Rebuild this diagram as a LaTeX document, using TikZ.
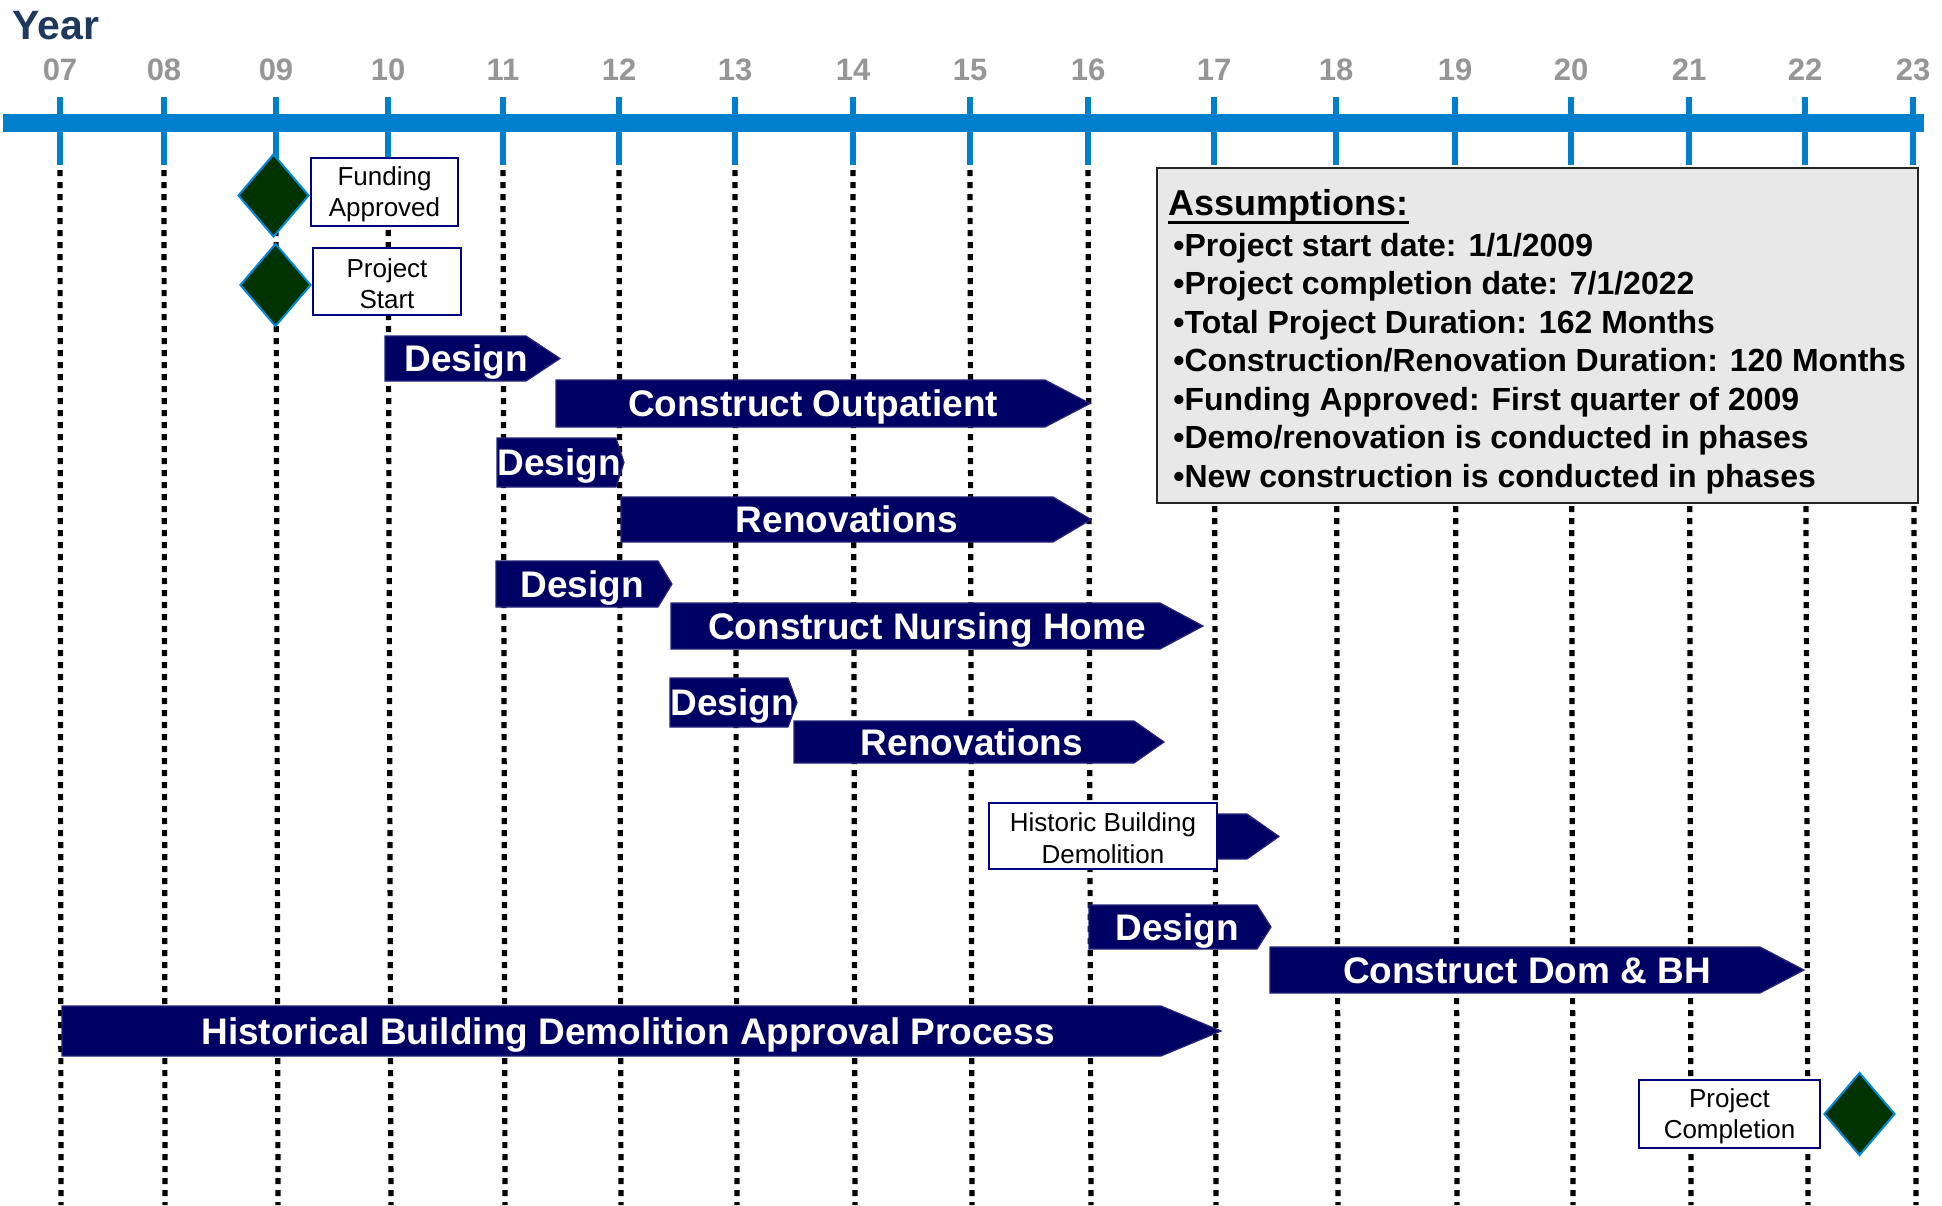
\documentclass[tikz,border=0pt]{standalone}
\usepackage{fontspec}
\setmainfont{Liberation Sans}
\usetikzlibrary{shapes.geometric}
\definecolor{navybar}{RGB}{0,0,100}
\definecolor{boxnavy}{RGB}{0,0,128}
\definecolor{tlblue}{RGB}{0,128,204}
\definecolor{yeargray}{RGB}{150,150,150}
\definecolor{yearblue}{RGB}{31,56,93}
\definecolor{dgreen}{RGB}{0,51,0}
\definecolor{diaborder}{RGB}{0,136,221}
\definecolor{assumgray}{RGB}{232,232,232}
\tikzset{
  barfill/.style={fill=navybar, draw=navybar!85!white, line width=0.6pt},
  bartext/.style={anchor=base, inner sep=0pt, text=white, font=\fontsize{18.5pt}{22pt}\selectfont\bfseries},
  tickline/.style={draw=tlblue, line width=3pt},
  gridline/.style={draw=black, line width=2.6pt, dash pattern=on 3pt off 3pt},
  yearlab/.style={anchor=base, inner sep=0pt, text=yeargray, font=\fontsize{15.5pt}{18pt}\selectfont\bfseries},
  milestone/.style={diamond, draw=diaborder, fill=dgreen, line width=1pt, inner sep=0pt, minimum width=35.5pt, minimum height=41.5pt},
  infobox/.style={draw=boxnavy, fill=white, line width=1.3pt, inner sep=0pt},
  infotext/.style={inner sep=0pt, align=center, yshift=-1.2pt, font=\fontsize{13pt}{15.75pt}\selectfont},
  assumline/.style={anchor=base west, inner sep=0pt, font=\fontsize{16pt}{19pt}\selectfont\bfseries},
}
% #1 name, #2 x left, #3 x body end, #4 x tip, #5 y top, #6 y bottom, #7 text x, #8 text
\newcommand\ganttbar[8]{%
  \fill[barfill] (#2,#5) -- (#3,#5) -- (#4,{(#5+#6)/2}) -- (#3,#6) -- (#2,#6) -- cycle;
  \node[bartext] (#1) at (#7,{(#5+#6)/2+13}) {#8};
}
\begin{document}
\begin{tikzpicture}[x=0.5pt, y=-0.5pt]
\useasboundingbox (0,0) rectangle (1942,1205);
\fill[white] (0,0) rectangle (1942,1205);

% Title
\node[anchor=base west, inner sep=0pt, text=yearblue, font=\fontsize{20.5pt}{24pt}\selectfont\bfseries] (yeartitle) at (12,39) {Year};

% grid lines
\foreach \lab/\xt/\xb in {07/60/61, 08/164/165, 09/276/278, 10/388/391, 11/503/505, 12/619/621, 13/735/737, 14/853/855, 15/970/972, 16/1088/1091, 17/1214/1216, 18/1336/1338, 19/1455/1457, 20/1571/1573, 21/1689/1691, 22/1805/1808, 23/1913/1916}{
  \draw[gridline] (\xt,170) -- (\xb,1205);
}

% timeline
\fill[tlblue] (3,114) rectangle (1924,132);
\foreach \lab/\xt in {07/60, 08/164, 09/276, 10/388, 11/503, 12/619, 13/735, 14/853, 15/970, 16/1088, 17/1214, 18/1336, 19/1455, 20/1571, 21/1689, 22/1805, 23/1913}{
  \draw[tickline] (\xt,97) -- (\xt,165);
  \node[yearlab] (y\lab) at (\xt,80) {\lab};
}

% milestones
\node[milestone] (fundD) at (273.5,195.5) {};
\node[infobox, minimum width=73.5pt, minimum height=34pt] (fundB) at (384.5,192) {};
\node[infotext] (fundT) at (fundB.center) {Funding\\Approved};
\node[milestone] (startD) at (275.5,285) {};
\node[infobox, minimum width=74pt, minimum height=33.5pt] (startB) at (387,281.5) {};
\node[infotext] (startT) at (startB.center) {Project\\Start};

% bars
\ganttbar{d1}{385}{526}{560}{336}{381}{466}{Design}
\ganttbar{co}{556}{1045}{1090}{380}{427}{813}{Construct Outpatient}
\ganttbar{d2}{497}{616}{624}{438}{487}{559}{Design}
\ganttbar{ren1}{621}{1053}{1091}{497}{542}{847}{Renovations}
\ganttbar{d3}{496}{658}{672}{561}{607}{582}{Design}
\ganttbar{cnh}{671}{1160}{1203}{603}{649}{927}{Construct Nursing Home}
\ganttbar{d4}{670}{788}{797}{678}{727}{732}{Design}
\ganttbar{ren2}{794}{1134}{1164}{721}{763}{972}{Renovations}
\fill[barfill] (1100,814) -- (1247,814) -- (1279,836.5) -- (1247,859) -- (1100,859) -- cycle;
\node[infobox, minimum width=114pt, minimum height=33pt] (hbdB) at (1103,836) {};
\node[infotext] (hbdT) at (hbdB.center) {Historic Building\\Demolition};
\ganttbar{d5}{1089}{1257}{1271}{905}{949}{1177}{Design}
\ganttbar{cdb}{1270}{1760}{1804}{947}{993}{1527}{Construct Dom \& BH}
\ganttbar{hist}{62}{1161}{1221}{1006}{1056}{628}{Historical Building Demolition Approval Process}

% completion
\node[infobox, minimum width=90.5pt, minimum height=34pt] (compB) at (1729.5,1114) {};
\node[infotext] (compT) at (compB.center) {Project\\Completion};
\node[milestone] (compD) at (1859.5,1114) {};

% assumptions
\draw[fill=assumgray, draw=black!85, line width=1.3pt] (1157,168) rectangle (1918,503);
\node[anchor=base west, inner sep=0pt, font=\fontsize{18pt}{21pt}\selectfont\bfseries] (ahead) at (1168,215) {Assumptions:};
\draw[line width=1.5pt] ([yshift=-3.5pt]ahead.base west) -- ([yshift=-3.5pt]ahead.base east);
\node[assumline] (a1) at (1173,256) {•Project start date: 1/1/2009};
\node[assumline] (a2) at (1173,294.5) {•Project completion date: 7/1/2022};
\node[assumline] (a3) at (1173,333) {•Total Project Duration: 162 Months};
\node[assumline] (a4) at (1173,371.5) {•Construction/Renovation Duration: 120 Months};
\node[assumline] (a5) at (1173,410) {•Funding Approved: First quarter of 2009};
\node[assumline] (a6) at (1173,448.5) {•Demo/renovation is conducted in phases};
\node[assumline] (a7) at (1173,487) {•New construction is conducted in phases};
\end{tikzpicture}
\end{document}
